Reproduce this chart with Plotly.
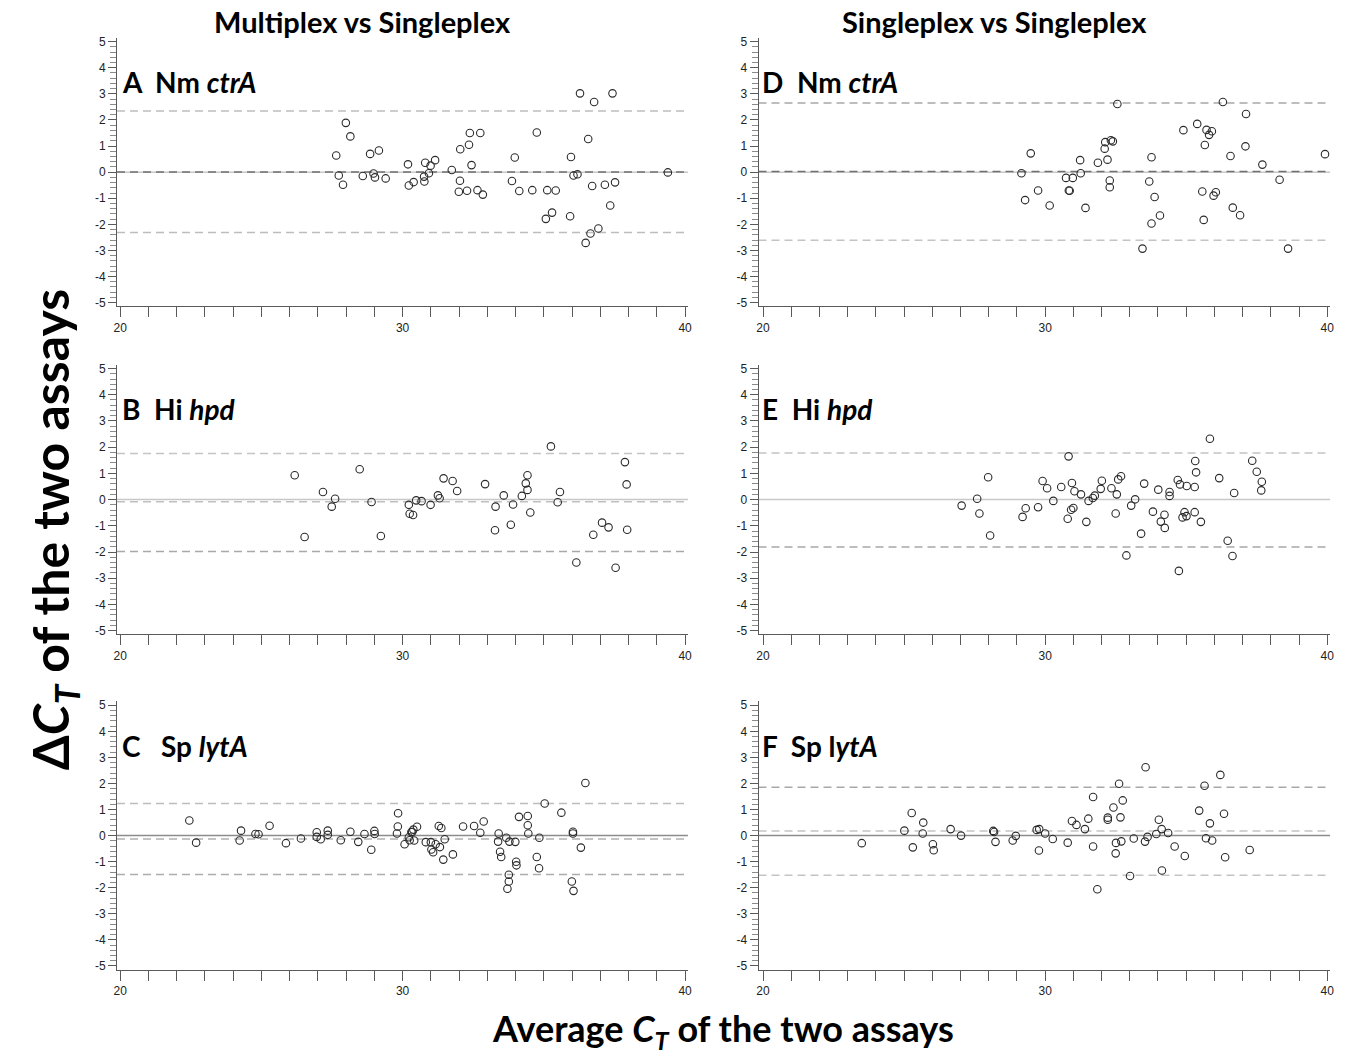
import plotly.graph_objects as go

W, H = 1350, 1063

# ---------------- data ----------------
A_x = [27.65, 27.74, 27.89, 27.99, 28.15, 28.59, 28.85, 28.97, 29.02, 29.16, 29.40, 30.19, 30.22, 30.39,
       30.76, 30.77, 30.80, 30.93, 30.99, 31.15, 31.74, 31.99, 32.03, 32.04, 32.28, 32.35, 32.38, 32.44,
       32.65, 32.75, 32.84, 33.87, 33.97, 34.13, 34.59, 34.75, 35.07, 35.12, 35.29, 35.42, 35.93, 35.96,
       36.05, 36.19, 36.28, 36.48, 36.57, 36.65, 36.71, 36.78, 36.93, 37.16, 37.35, 37.43, 37.52, 39.39]
A_y = [0.64, -0.13, -0.48, 1.89, 1.37, -0.15, 0.70, -0.05, -0.20, 0.83, -0.24, 0.30, -0.51, -0.38,
       -0.17, -0.36, 0.36, -0.04, 0.25, 0.46, 0.08, -0.75, -0.33, 0.88, -0.71, 1.05, 1.50, 0.27,
       -0.69, 1.50, -0.86, -0.34, 0.56, -0.72, -0.69, 1.52, -1.79, -0.69, -1.55, -0.70, -1.69, 0.58,
       -0.13, -0.08, 3.02, -2.71, 1.27, -2.35, -0.53, 2.69, -2.16, -0.48, -1.28, 3.02, -0.39, -0.01]

B_x = [26.18, 26.53, 27.18, 27.49, 27.61, 28.48, 28.90, 29.23, 30.22, 30.25, 30.37, 30.48, 30.67, 30.99,
       31.25, 31.31, 31.45, 31.77, 31.93, 32.92, 33.27, 33.29, 33.58, 33.83, 33.91, 34.22, 34.36, 34.42,
       34.42, 34.52, 35.25, 35.49, 35.57, 36.15, 36.75, 37.06, 37.29, 37.54, 37.87, 37.93, 37.95]
B_y = [0.93, -1.43, 0.29, -0.27, 0.03, 1.16, -0.09, -1.39, -0.20, -0.54, -0.59, -0.03, -0.06, -0.20,
       0.16, 0.05, 0.81, 0.71, 0.33, 0.59, -1.17, -0.27, 0.16, -0.96, -0.19, 0.14, 0.62, 0.93,
       0.37, -0.49, 2.03, -0.10, 0.29, -2.40, -1.34, -0.88, -1.06, -2.60, 1.43, 0.58, -1.15]

C_x = [22.45, 22.69, 24.23, 24.28, 24.79, 24.90, 25.29, 25.87, 26.40, 26.96, 26.96, 27.10, 27.35, 27.35,
       27.81, 28.15, 28.43, 28.65, 28.89, 29.00, 29.01, 29.80, 29.83, 29.84, 30.07, 30.22, 30.25, 30.31,
       30.34, 30.38, 30.41, 30.51, 30.82, 31.00, 31.02, 31.08, 31.17, 31.28, 31.32, 31.37, 31.44, 31.49,
       31.78, 32.14, 32.53, 32.75, 32.87, 33.40, 33.38, 33.45, 33.49, 33.67, 33.71, 33.76, 33.76, 33.78,
       33.99, 34.02, 34.03, 34.12, 34.43, 34.43, 34.45, 34.75, 34.83, 34.84, 35.03, 35.62, 35.99, 36.03,
       36.03, 36.05, 36.31, 36.47]
C_y = [0.58, -0.27, -0.19, 0.19, 0.06, 0.05, 0.38, -0.29, -0.11, 0.13, -0.05, -0.14, 0.19, 0.03,
       -0.18, 0.15, -0.24, 0.06, -0.54, 0.18, 0.06, 0.08, 0.35, 0.86, -0.33, -0.06, -0.18, 0.14,
       0.14, 0.23, -0.19, 0.34, -0.25, -0.25, -0.53, -0.64, -0.33, 0.37, -0.44, 0.29, -0.92, -0.14,
       -0.72, 0.35, 0.37, 0.11, 0.54, 0.08, -0.23, -0.62, -0.82, -0.08, -2.04, -1.50, -1.76, -0.23,
       -0.24, -1.00, -1.14, 0.72, 0.75, 0.40, 0.08, -0.82, -1.25, -0.08, 1.23, 0.88, -1.76, 0.15,
       0.08, -2.12, -0.46, 2.02]

D_x = [29.16, 29.29, 29.49, 29.75, 30.16, 30.74, 30.84, 30.87, 30.98, 31.24, 31.26, 31.43, 31.87, 32.11,
       32.13, 32.21, 32.29, 32.29, 32.33, 32.40, 32.56, 33.45, 33.69, 33.77, 33.77, 33.88, 34.07, 34.90,
       35.39, 35.57, 35.62, 35.66, 35.72, 35.81, 35.91, 35.97, 36.05, 36.30, 36.57, 36.65, 36.91, 37.10,
       37.12, 37.70, 38.31, 38.61, 39.92]
D_y = [-0.04, -1.07, 0.72, -0.70, -1.28, -0.22, -0.70, -0.71, -0.22, 0.46, -0.04, -1.37, 0.36, 0.90,
       1.15, 0.48, -0.32, -0.58, 1.22, 1.18, 2.61, -2.93, -0.36, -1.97, 0.57, -0.95, -1.66, 1.61,
       1.85, -0.74, -1.83, 1.04, 1.62, 1.43, 1.57, -0.90, -0.77, 2.69, 0.62, -1.36, -1.65, 0.99,
       2.23, 0.29, -0.29, -2.93, 0.69]

E_x = [27.04, 27.59, 27.67, 27.98, 28.05, 29.20, 29.31, 29.75, 29.91, 30.07, 30.29, 30.57, 30.80, 30.83,
       30.92, 30.95, 31.00, 31.04, 31.27, 31.46, 31.54, 31.69, 31.76, 31.97, 32.01, 32.35, 32.50, 32.54,
       32.59, 32.69, 32.88, 33.05, 33.19, 33.40, 33.51, 33.82, 34.01, 34.10, 34.23, 34.24, 34.41, 34.41,
       34.70, 34.74, 34.78, 34.87, 34.94, 35.01, 35.02, 35.30, 35.30, 35.32, 35.35, 35.52, 35.84, 36.17,
       36.47, 36.64, 36.70, 37.34, 37.50, 37.68, 37.66]
E_y = [-0.23, 0.03, -0.53, 0.85, -1.37, -0.66, -0.33, -0.29, 0.71, 0.43, -0.05, 0.48, -0.73, 1.65,
       -0.39, 0.63, -0.32, 0.32, 0.20, -0.85, -0.05, 0.06, 0.15, 0.41, 0.72, 0.43, -0.53, 0.20,
       0.77, 0.89, -2.13, -0.23, 0.01, -1.30, 0.61, -0.46, 0.38, -0.84, -0.58, -1.08, 0.29, 0.14,
       0.75, -2.72, 0.58, -0.68, -0.48, -0.63, 0.52, -0.48, 0.48, 1.47, 1.04, -0.85, 2.32, 0.82,
       -1.57, -2.15, 0.25, 1.48, 1.06, 0.68, 0.35]

F_x = [23.50, 25.01, 25.27, 25.31, 25.66, 25.68, 26.02, 26.05, 26.65, 27.02, 28.16, 28.19, 28.24, 28.85,
       28.96, 29.70, 29.79, 29.78, 30.00, 30.27, 30.80, 30.95, 31.11, 31.41, 31.53, 31.70, 31.70, 31.85,
       32.22, 32.22, 32.42, 32.50, 32.51, 32.62, 32.67, 32.70, 32.75, 33.01, 33.14, 33.54, 33.56, 33.63,
       33.94, 34.03, 34.13, 34.14, 34.36, 34.59, 34.95, 35.46, 35.65, 35.70, 35.84, 35.92, 36.21, 36.34,
       36.38, 37.25]
F_y = [-0.29, 0.19, 0.87, -0.45, 0.08, 0.50, -0.33, -0.56, 0.25, 0.00, 0.18, 0.14, -0.24, -0.19,
       -0.01, 0.22, 0.25, -0.57, 0.08, -0.13, -0.27, 0.56, 0.41, 0.25, 0.65, 1.48, -0.42, -2.06,
       0.69, 0.61, 1.08, -0.68, -0.28, 1.99, 0.70, -0.22, 1.35, -1.55, -0.11, -0.23, 2.62, -0.05,
       0.06, 0.61, 0.25, -1.34, 0.10, -0.42, -0.78, 0.96, 1.91, -0.10, 0.47, -0.19, 2.33, 0.84,
       -0.83, -0.55]

# mean / limits of agreement per panel
A_lines = {"mean": 0.01, "upper": 2.34, "lower": -2.31}
B_lines = {"mean": -0.08, "upper": 1.76, "lower": -1.98}
C_lines = {"mean": -0.13, "upper": 1.23, "lower": -1.49}
D_lines = {"mean": 0.03, "upper": 2.65, "lower": -2.61}
E_lines = {"mean": None, "upper": 1.78, "lower": -1.81}
F_lines = {"mean": 0.18, "upper": 1.86, "lower": -1.52}

column_titles = ["Multiplex vs Singleplex", "Singleplex vs Singleplex"]
panel_labels = ["A  Nm <i>ctrA</i>", "B  Hi <i>hpd</i>", "C   Sp <i>lytA</i>",
                "D  Nm <i>ctrA</i>", "E  Hi <i>hpd</i>", "F  Sp l<i>ytA</i>"]
x_tick_vals = [20, 30, 40]
x_tick_text = ["20", "30", "40"]
y_tick_vals = list(range(-5, 6))
y_tick_text = [str(v) for v in y_tick_vals]

# ---------------- layout geometry ----------------
def px_x(p):
    return p / W

def px_y(p):
    return 1 - p / H

col_dom = [(113.7, 688.0), (759.0, 1334.0)]
col_rng = [(19.89, 40.1), (19.84, 40.1)]
row_dom = [(35.0, 305.3), (364.0, 635.5), (703.0, 973.0)]
y_rng = [-5.14, 5.15]

panels = [
    (A_x, A_y, A_lines, 0, 0, {"mean": "#707070", "upper": "#bdbdbd", "lower": "#bdbdbd", "zero": "#c8c8c8"}),
    (B_x, B_y, B_lines, 1, 0, {"mean": "#c0c0c0", "upper": "#c4c4c4", "lower": "#a8a8a8", "zero": "#c8c8c8"}),
    (C_x, C_y, C_lines, 2, 0, {"mean": "#b0b0b0", "upper": "#bdbdbd", "lower": "#adadad", "zero": "#8c8c8c"}),
    (D_x, D_y, D_lines, 0, 1, {"mean": "#707070", "upper": "#a8a8a8", "lower": "#c4c4c4", "zero": "#c8c8c8"}),
    (E_x, E_y, E_lines, 1, 1, {"mean": "#c0c0c0", "upper": "#c4c4c4", "lower": "#a8a8a8", "zero": "#c8c8c8"}),
    (F_x, F_y, F_lines, 2, 1, {"mean": "#c4c4c4", "upper": "#a8a8a8", "lower": "#c4c4c4", "zero": "#8c8c8c"}),
]

fig = go.Figure()
layout = dict(width=W, height=H, margin=dict(l=0, r=0, t=0, b=0),
              paper_bgcolor="white", plot_bgcolor="white", showlegend=False)

tick_font = dict(family="Liberation Sans, Arial, sans-serif", size=12, color="#222222")
title_font = "Lato, Open Sans, sans-serif"

shapes = []
annotations = []
for i, (xs, ys, lines, r, c, cols) in enumerate(panels):
    n = i + 1
    xa = "x" if n == 1 else f"x{n}"
    ya = "y" if n == 1 else f"y{n}"
    xkey = "xaxis" if n == 1 else f"xaxis{n}"
    ykey = "yaxis" if n == 1 else f"yaxis{n}"
    layout[xkey] = dict(
        domain=[px_x(col_dom[c][0]), px_x(col_dom[c][1])], range=list(col_rng[c]),
        anchor=ya, showgrid=False, zeroline=False, showline=True, linecolor="#5a5a5a", linewidth=1,
        ticks="outside", ticklen=10, tickwidth=1, tickcolor="#5a5a5a",
        tickmode="array", tickvals=x_tick_vals, ticktext=x_tick_text, tickfont=tick_font,
        minor=dict(ticks="outside", ticklen=10, tickwidth=1, tickcolor="#5a5a5a", dtick=1, tick0=20),
        fixedrange=True)
    layout[ykey] = dict(
        domain=[px_y(row_dom[r][1]), px_y(row_dom[r][0])], range=y_rng,
        anchor=xa, showgrid=False, zeroline=False, showline=True, linecolor="#5a5a5a", linewidth=1,
        ticks="outside", ticklen=8, tickwidth=1, tickcolor="#5a5a5a",
        tickmode="array", tickvals=y_tick_vals, ticktext=y_tick_text, tickfont=tick_font,
        minor=dict(ticks="outside", ticklen=6, tickwidth=1, tickcolor="#8a8a8a", dtick=0.2, tick0=0),
        fixedrange=True)

    # zero line (solid)
    shapes.append(dict(type="line", xref=f"{xa} domain", yref=ya, x0=0, x1=1, y0=0, y1=0,
                       line=dict(color=cols["zero"], width=1.5), layer="below"))
    for key in ["upper", "lower", "mean"]:
        v = lines[key]
        if v is None:
            continue
        shapes.append(dict(type="line", xref=f"{xa} domain", yref=ya, x0=0, x1=1, y0=v, y1=v,
                           line=dict(color=cols[key], width=1.5, dash="8px,5px"), layer="below"))

    fig.add_trace(go.Scatter(
        x=xs, y=ys, xaxis=xa, yaxis=ya, mode="markers",
        marker=dict(symbol="circle-open", size=7.5, color="#2a2a2a", line=dict(width=1.1, color="#2a2a2a")),
        hoverinfo="x+y"))

    annotations.append(dict(
        text=f"<b>{panel_labels[i]}</b>", xref="paper", yref="paper",
        x=px_x(col_dom[c][0] + (3 if c == 0 else 2)), y=px_y(row_dom[r][0] + 45),
        xanchor="left", yanchor="middle", showarrow=False,
        font=dict(family=title_font, size=28, color="black")))

# column titles
annotations.append(dict(text=f"<b>{column_titles[0]}</b>", xref="paper", yref="paper",
                        x=px_x(361), y=px_y(19), xanchor="center", yanchor="middle", showarrow=False,
                        font=dict(family=title_font, size=29, color="black")))
annotations.append(dict(text=f"<b>{column_titles[1]}</b>", xref="paper", yref="paper",
                        x=px_x(996), y=px_y(19), xanchor="center", yanchor="middle", showarrow=False,
                        font=dict(family=title_font, size=29, color="black")))
# axis titles
annotations.append(dict(text="<b>Δ<i>C</i><sub><i>T</i></sub> of the two assays</b>", xref="paper", yref="paper",
                        x=px_x(50), y=px_y(530), xanchor="center", yanchor="middle", textangle=-90,
                        showarrow=False, font=dict(family=title_font, size=50, color="black")))
annotations.append(dict(text="<b>Average <i>C</i><sub><i>T</i></sub> of the two assays</b>", xref="paper", yref="paper",
                        x=px_x(723), y=px_y(1034), xanchor="center", yanchor="middle",
                        showarrow=False, font=dict(family=title_font, size=36, color="black")))

layout["shapes"] = shapes
layout["annotations"] = annotations
fig.update_layout(**layout)
fig.write_html("out.html", config={"displayModeBar": False},
               post_script="document.body.style.margin='0px';document.body.style.overflow='hidden';")
